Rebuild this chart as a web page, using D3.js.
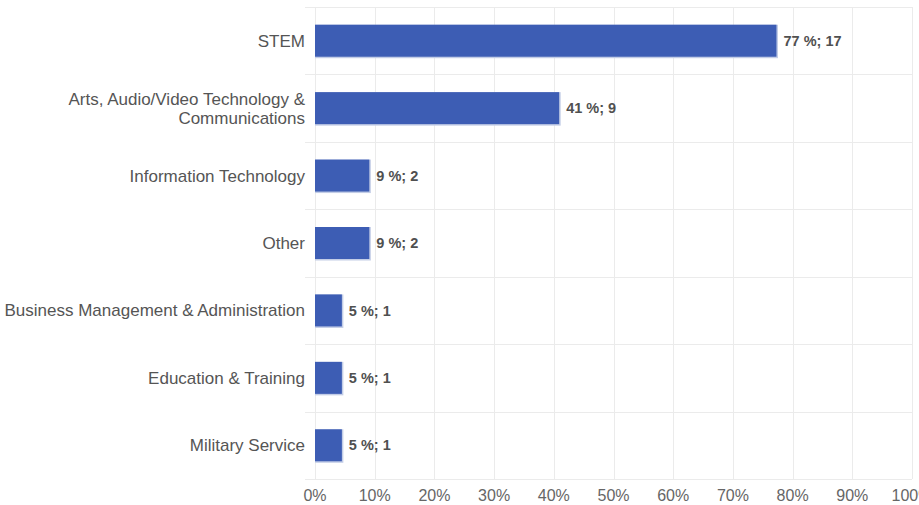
<!DOCTYPE html>
<html><head><meta charset="utf-8">
<script src="https://cdn.jsdelivr.net/npm/d3@7"></script>
<style>
html,body{margin:0;padding:0;background:#fff;overflow:hidden;}
svg{display:block;font-family:"Liberation Sans",Arial,sans-serif;}
</style></head>
<body><svg id="c" width="919" height="505"></svg>
<script>
const categories = ["STEM", "Arts, Audio/Video Technology & Communications", "Information Technology", "Other", "Business Management & Administration", "Education & Training", "Military Service"];
const categoryLines = [["STEM"], ["Arts, Audio/Video Technology &", "Communications"], ["Information Technology"], ["Other"], ["Business Management & Administration"], ["Education & Training"], ["Military Service"]];
const percents = [77.3, 40.9, 9.1, 9.1, 4.5, 4.5, 4.5];
const counts = [17, 9, 2, 2, 1, 1, 1];
const tickValues = [0, 10, 20, 30, 40, 50, 60, 70, 80, 90, 100];

(function() {
const svg = d3.select("#c");
const mLeft = 315, mRight = 912, mTop = 7, mBottom = 479;
const x = d3.scaleLinear().domain([0, 100]).range([mLeft, mRight]);
const y = d3.scaleBand().domain(categories).range([mTop, mBottom]).paddingInner(0).paddingOuter(0);
const barH = 32;

// vertical gridlines
svg.append("g").selectAll("line").data(tickValues).join("line")
  .attr("x1", d => Math.round(x(d)) + 0.5).attr("x2", d => Math.round(x(d)) + 0.5)
  .attr("y1", mTop).attr("y2", mBottom)
  .attr("stroke", "#ebebeb").attr("stroke-width", 1);

// horizontal separators
const seps = categories.map(c => y(c)).concat([mBottom]);
svg.append("g").selectAll("line").data(seps).join("line")
  .attr("x1", 305).attr("x2", mRight)
  .attr("y1", d => Math.round(d) + 0.5).attr("y2", d => Math.round(d) + 0.5)
  .attr("stroke", "#ebebeb").attr("stroke-width", 1);

// bars
const data = categories.map((c, i) => ({c, p: percents[i], n: counts[i], lines: categoryLines[i]}));
const g = svg.append("g");
g.selectAll("rect.shadow").data(data).join("rect").attr("class", "shadow")
  .attr("x", x(0)).attr("y", d => y(d.c) + y.bandwidth()/2 - barH/2)
  .attr("width", d => x(d.p) - x(0) + 1.5).attr("height", barH + 1.5)
  .attr("fill", "#c3cde6");
g.selectAll("rect.bar").data(data).join("rect").attr("class", "bar")
  .attr("x", x(0)).attr("y", d => y(d.c) + y.bandwidth()/2 - barH/2)
  .attr("width", d => x(d.p) - x(0)).attr("height", barH)
  .attr("fill", "#3d5db4");

// value labels
svg.append("g").selectAll("text").data(data).join("text")
  .attr("x", d => x(d.p) + 7).attr("y", d => y(d.c) + y.bandwidth()/2)
  .attr("dy", "0.35em")
  .attr("font-size", 14.5).attr("font-weight", "bold").attr("fill", "#505050")
  .text(d => `${Math.round(d.p)} %; ${d.n}`);

// category labels
const cl = svg.append("g").selectAll("text").data(data).join("text")
  .attr("x", 305).attr("text-anchor", "end")
  .attr("font-size", 17).attr("fill", "#555");
cl.each(function(d) {
  const t = d3.select(this);
  const n = d.lines.length, lh = 19;
  const cy = y(d.c) + y.bandwidth()/2;
  d.lines.forEach((ln, k) => {
    t.append("tspan").attr("x", 305)
      .attr("y", cy + (k - (n - 1)/2) * lh)
      .attr("dy", "0.35em").text(ln);
  });
});

// x axis tick labels
svg.append("g").selectAll("text").data(tickValues).join("text")
  .attr("x", d => x(d)).attr("y", 495).attr("dy", "0.35em")
  .attr("text-anchor", "middle").attr("font-size", 16).attr("fill", "#666")
  .text(d => d + "%");
})();
</script></body></html>
